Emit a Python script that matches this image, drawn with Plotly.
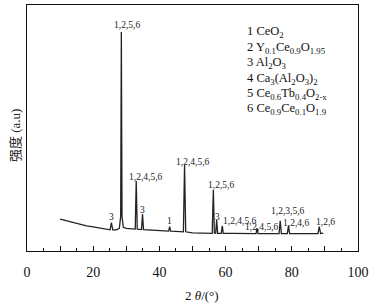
import plotly.graph_objects as go

# XRD pattern (2θ in degrees, intensity in arbitrary units)
two_theta = [10, 12, 14, 16, 18, 20, 22, 24, 25.1, 25.5, 25.9, 27.0, 27.9, 28.3, 28.5, 28.7, 29.1,
             30.0, 32.0, 32.7, 33.0, 33.3, 34.6, 34.9, 35.2, 38, 40, 42.8, 43.1, 43.4, 45,
             47.25, 47.6, 47.95, 50, 53, 55.95, 56.3, 56.6, 57.0, 57.3, 57.6, 58.7, 59.0, 59.3,
             62, 65, 67, 69.2, 69.5, 69.8, 72, 75, 76.15, 76.5, 76.85, 78.65, 79.0, 79.35,
             82, 85, 87.9, 88.3, 88.7, 89.5]
intensity = [130, 123, 115, 108, 102, 98, 93, 88, 86, 115, 86, 86, 92, 140, 890, 140, 96,
             92, 90, 89, 285, 89, 87, 150, 87, 85, 84, 81, 99, 81, 80,
             78, 350, 78, 74, 73, 72, 248, 73, 72, 126, 72, 72, 102, 72,
             72, 71, 71, 71, 93, 71, 71, 71, 71, 123, 71, 71, 102, 71,
             71, 71, 71, 99, 71, 73]

# Peak labels
peak_labels = ["3", "1,2,5,6", "1,2,4,5,6", "3", "1", "1,2,4,5,6", "1,2,5,6", "3",
               "1,2,4,5,6", "1,2,4,5,6", "1,2,3,5,6", "1,2,4,6", "1,2,6"]
peak_label_x = [25.6, 30.2, 36.0, 34.9, 43.1, 50.0, 58.5, 57.7, 64.2, 71.0, 78.9, 81.3, 90.1]
peak_label_y = [138, 919, 301, 167, 122, 362, 268, 138, 122, 98, 163, 115, 119]

# Phase legend
phase_labels = ["1 CeO<sub>2</sub>",
                "2 Y<sub>0.1</sub>Ce<sub>0.9</sub>O<sub>1.95</sub>",
                "3 Al<sub>2</sub>O<sub>3</sub>",
                "4 Ca<sub>3</sub>(Al<sub>2</sub>O<sub>3</sub>)<sub>2</sub>",
                "5 Ce<sub>0.6</sub>Tb<sub>0.4</sub>O<sub>2-x</sub>",
                "6 Ce<sub>0.9</sub>Ce<sub>0.1</sub>O<sub>1.9</sub>"]

x_tick_vals = [0, 10, 20, 30, 40, 50, 60, 70, 80, 90, 100]
x_tick_text = ["0", "", "20", "", "40", "", "60", "", "80", "", "100"]

SERIF = "Liberation Serif, Times New Roman, serif"

fig = go.Figure()
fig.add_trace(go.Scatter(x=two_theta, y=intensity, mode="lines",
                         line=dict(color="#222222", width=1.3), showlegend=False,
                         hoverinfo="skip"))

annotations = []
for t, x, y in zip(peak_labels, peak_label_x, peak_label_y):
    annotations.append(dict(x=x, y=y, xref="x", yref="y", text=t, showarrow=False,
                            font=dict(family=SERIF, size=9.5, color="#222222"),
                            xanchor="center", yanchor="middle"))

W, H = 377, 307
L, R, T, B = 27, 19, 5, 56
pw, ph = W - L - R, H - T - B

def px_to_paper(px, py):
    return (px - L) / pw, (H - B - py) / ph

legend_y_px = [32, 48, 63, 79, 94, 109]
for t, py in zip(phase_labels, legend_y_px):
    xp, yp = px_to_paper(245, py)
    annotations.append(dict(x=xp, y=yp, xref="paper", yref="paper", text=t, showarrow=False,
                            font=dict(family=SERIF, size=12.5, color="#111111"),
                            xanchor="left", yanchor="middle"))

xp, yp = px_to_paper(15, 135)
annotations.append(dict(x=xp, y=yp, xref="paper", yref="paper", text="强度 (a.u)",
                        showarrow=False, textangle=-90,
                        font=dict(family="Liberation Serif, Noto Sans CJK SC", size=13, color="#222222"),
                        xanchor="center", yanchor="middle"))
xp, yp = px_to_paper(202, 295)
annotations.append(dict(x=xp, y=yp, xref="paper", yref="paper", text="2 <i>θ</i>/(°)",
                        showarrow=False,
                        font=dict(family=SERIF, size=13, color="#111111"),
                        xanchor="center", yanchor="middle"))

fig.update_layout(
    width=W, height=H,
    margin=dict(l=L, r=R, t=T, b=B),
    paper_bgcolor="white", plot_bgcolor="white",
    annotations=annotations,
    xaxis=dict(range=[0, 100], tickvals=x_tick_vals, ticktext=x_tick_text,
               ticks="inside", ticklen=5, tickcolor="#111111", tickwidth=1,
               ticklabelstandoff=8,
               minor=dict(dtick=5, tick0=0, ticks="inside", ticklen=3, tickcolor="#111111"),
               showline=True, linecolor="#111111", linewidth=1, mirror=True,
               showgrid=False, zeroline=False,
               tickfont=dict(family=SERIF, size=14, color="#111111")),
    yaxis=dict(range=[0, 1000], showticklabels=False, ticks="",
               showline=True, linecolor="#111111", linewidth=1, mirror=True,
               showgrid=False, zeroline=False),
)

fig.write_html("out.html", config={"displayModeBar": False},
               post_script="document.body.style.margin='0';")
